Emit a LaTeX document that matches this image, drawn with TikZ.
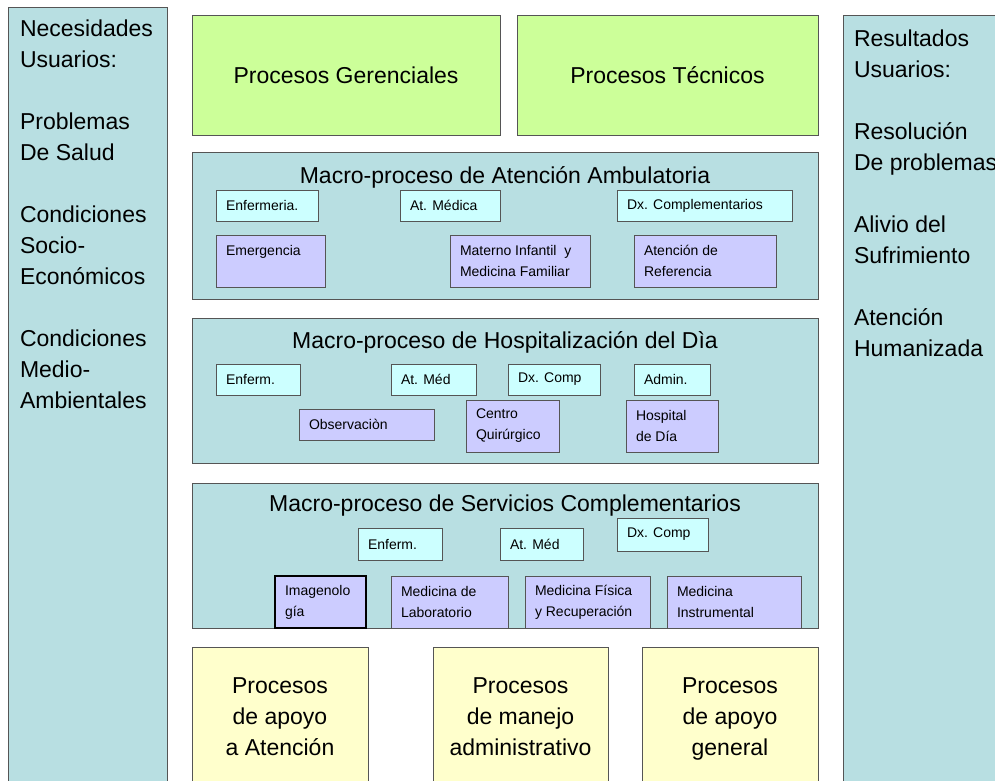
\documentclass[tikz,border=0pt]{standalone}
\usepackage{fontspec}
\setmainfont{Liberation Sans}
\definecolor{panel}{HTML}{B8DFE2}
\definecolor{greenA}{HTML}{CCFF99}
\definecolor{cyanA}{HTML}{CCFFFF}
\definecolor{lavA}{HTML}{CCCCFF}
\definecolor{yelA}{HTML}{FFFFCC}
\definecolor{bord}{HTML}{555555}
\newcommand\bx[6]{\node[frame, fill=#1, minimum width=#4pt, minimum height=#5pt,
  label={[small, align=left, anchor=west, xshift=10pt]west:#6}] (#2) at #3 {};}
\begin{document}
\begin{tikzpicture}[x=1pt,y=-1pt,
  every node/.style={inner sep=0pt, outer sep=0pt},
  frame/.style={draw=bord, line width=0.9pt, rectangle, anchor=north west},
  big/.style={font=\fontsize{23}{31}\selectfont},
  small/.style={font=\fontsize{14}{21}\selectfont},
  title/.style={big, anchor=base},
  yelbox/.style={frame, fill=yelA, big, align=center, text depth=0pt, minimum height=140pt}]
\useasboundingbox (0,0) rectangle (995,781);
\clip (0,0) rectangle (995,781);
% side panels
\node[frame, fill=panel, minimum width=159pt, minimum height=800pt] (left) at (8,7) {};
\node[big, align=left, anchor=north west] (lefttext) at (20,20)
  {Necesidades\\Usuarios:\\[31pt]Problemas\\De Salud\\[31pt]Condiciones\\Socio-\\Económicos\\[31pt]Condiciones\\Medio-\\Ambientales};
\node[frame, fill=panel, minimum width=170pt, minimum height=800pt] (right) at (843,15) {};
\node[big, align=left, anchor=north west] (righttext) at (854,30)
  {Resultados\\Usuarios:\\[31pt]Resolución\\De problemas\\[31pt]Alivio del\\Sufrimiento\\[31pt]Atención\\Humanizada};
% top green
\node[frame, fill=greenA, big, minimum width=308pt, minimum height=120pt] (ger) at (192,15) {Procesos Gerenciales};
\node[frame, fill=greenA, big, minimum width=301pt, minimum height=120pt] (tec) at (517,15) {Procesos Técnicos};
% macro 1
\node[frame, fill=panel, minimum width=626pt, minimum height=147pt] (m1) at (192,152) {};
\node[title] (t1) at (505,183) {Macro-proceso de Atención Ambulatoria};
\bx{cyanA}{a1}{(216,190)}{102}{31}{Enfermeria.}
\bx{cyanA}{a2}{(400,190)}{100}{31}{At. Médica}
\bx{cyanA}{a3}{(617,190)}{175}{31}{Dx. Complementarios}
\bx{lavA}{a4}{(216,235)}{109}{52}{Emergencia\\\mbox{}}
\bx{lavA}{a5}{(450,235)}{140}{52}{Materno Infantil~ y\\Medicina Familiar}
\bx{lavA}{a6}{(634,235)}{142}{52}{Atención de\\Referencia}
% macro 2
\node[frame, fill=panel, minimum width=626pt, minimum height=145pt] (m2) at (192,318) {};
\node[title] (t2) at (505,348) {Macro-proceso de Hospitalización del Dìa};
\bx{cyanA}{b1}{(216,364)}{84}{31}{Enferm.}
\bx{cyanA}{b2}{(391,364)}{85}{31}{At. Méd}
\bx{cyanA}{b3}{(508,364)}{92}{31}{Dx. Comp}
\bx{cyanA}{b4}{(634,364)}{76}{31}{Admin.}
\bx{lavA}{b5}{(299,409)}{135}{31}{Observaciòn}
\bx{lavA}{b6}{(466,400)}{93}{52}{Centro\\Quirúrgico}
\bx{lavA}{b7}{(626,400)}{92}{52}{Hospital\\de Día}
% macro 3
\node[frame, fill=panel, minimum width=626pt, minimum height=145pt] (m3) at (192,483) {};
\node[title] (t3) at (505,511) {Macro-proceso de Servicios Complementarios};
\bx{cyanA}{c1}{(358,528)}{84}{32}{Enferm.}
\bx{cyanA}{c2}{(500,528)}{83}{32}{At. Méd}
\bx{cyanA}{c3}{(617,518)}{91}{33}{Dx. Comp}
\bx{lavA}{c5}{(391,576)}{117}{52}{Medicina de\\Laboratorio}
\bx{lavA}{c6}{(525,576)}{125}{52}{Medicina Física\\y Recuperación}
\bx{lavA}{c7}{(667,576)}{134}{52}{Medicina\\Instrumental}
\node[frame, draw=black, line width=1.4pt, fill=lavA, minimum width=91pt, minimum height=52pt,
  label={[small, align=left, anchor=west, xshift=10pt]west:Imagenolo\\gía}] (c4) at (275,576) {};
% bottom yellow
\node[yelbox, minimum width=176pt] (y1) at (192,647) {Procesos\\de apoyo\\a Atención};
\node[yelbox, minimum width=175pt] (y2) at (433,647) {Procesos\\de manejo\\administrativo};
\node[yelbox, minimum width=176pt] (y3) at (642,647) {Procesos\\de apoyo\\general};
\end{tikzpicture}
\end{document}
